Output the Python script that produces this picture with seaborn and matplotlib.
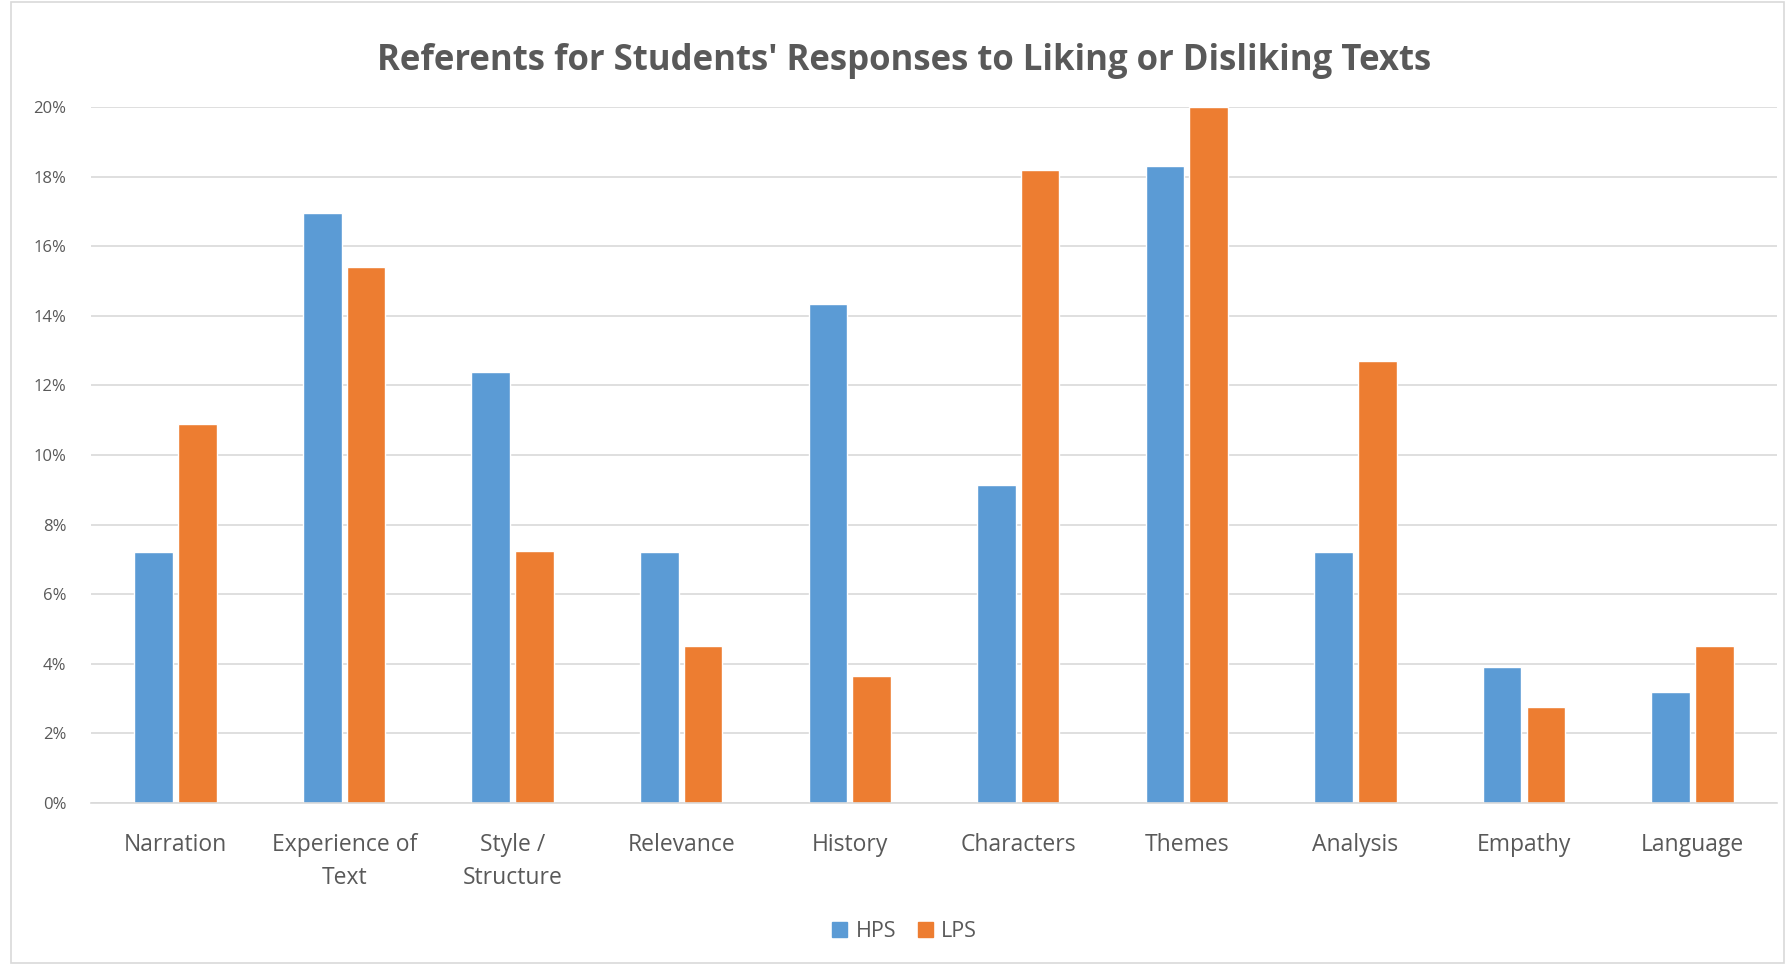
import matplotlib
matplotlib.use("Agg")
import matplotlib.pyplot as plt
import seaborn as sns
import pandas as pd
from matplotlib.patches import Rectangle
from matplotlib.ticker import FuncFormatter

categories = ["Narration", "Experience of\nText", "Style /\nStructure", "Relevance", "History",
              "Characters", "Themes", "Analysis", "Empathy", "Language"]
hps = [7.2, 16.95, 12.4, 7.2, 14.35, 9.15, 18.3, 7.2, 3.9, 3.2]
lps = [10.9, 15.4, 7.25, 4.5, 3.65, 18.2, 20.0, 12.7, 2.75, 4.5]
series = ["HPS", "LPS"]
colors = ["#5B9BD5", "#ED7D31"]
yticks = [0, 2, 4, 6, 8, 10, 12, 14, 16, 18, 20]

df = pd.DataFrame({
    "Category": categories * 2,
    "Value": hps + lps,
    "Series": ["HPS"] * len(categories) + ["LPS"] * len(categories),
})

sns.set_theme(style="white")
plt.rcParams["font.family"] = ["Open Sans", "DejaVu Sans"]

fig = plt.figure(figsize=(17.91, 9.65), dpi=100)
ax = fig.add_axes([0.051, 0.168, 0.941, 0.721])

sns.barplot(data=df, x="Category", y="Value", hue="Series", hue_order=series,
            palette=colors, width=0.52, gap=0.12, ax=ax, saturation=1,
            errorbar=None, legend=True)

ax.set_ylim(0, 20)
ax.set_yticks(yticks)
ax.yaxis.set_major_formatter(FuncFormatter(lambda v, p: f"{int(v)}%"))
ax.grid(axis="y", color="#D9D9D9", linewidth=1.2)
ax.set_axisbelow(True)
for s in ["top", "right", "left"]:
    ax.spines[s].set_visible(False)
ax.spines["bottom"].set_color("#D9D9D9")
ax.spines["bottom"].set_linewidth(1.2)
ax.set_xlabel("")
ax.set_ylabel("")
ax.tick_params(axis="y", labelsize=12, colors="#595959", length=0, pad=18)
ax.tick_params(axis="x", labelsize=16.5, colors="#595959", length=0, pad=22)
for lbl in ax.get_xticklabels():
    lbl.set_linespacing(1.45)

ax.legend_.remove()
handles = [Rectangle((0, 0), 1, 1, color=c) for c in colors]
fig.legend(handles, series, loc="center", bbox_to_anchor=(0.505, 0.035), ncol=2,
           frameon=False, fontsize=15.5, handlelength=0.7, handleheight=0.7,
           columnspacing=1.0, handletextpad=0.4, labelcolor="#595959")

fig.suptitle("Referents for Students' Responses to Liking or Disliking Texts",
             x=0.505, y=0.955, fontsize=25, fontweight="bold", color="#595959")

fig.patches.append(Rectangle((0.006, 0.002), 0.99, 0.996, transform=fig.transFigure,
                             fill=False, edgecolor="#D9D9D9", linewidth=1.2))

fig.savefig("out.png", dpi=100)
